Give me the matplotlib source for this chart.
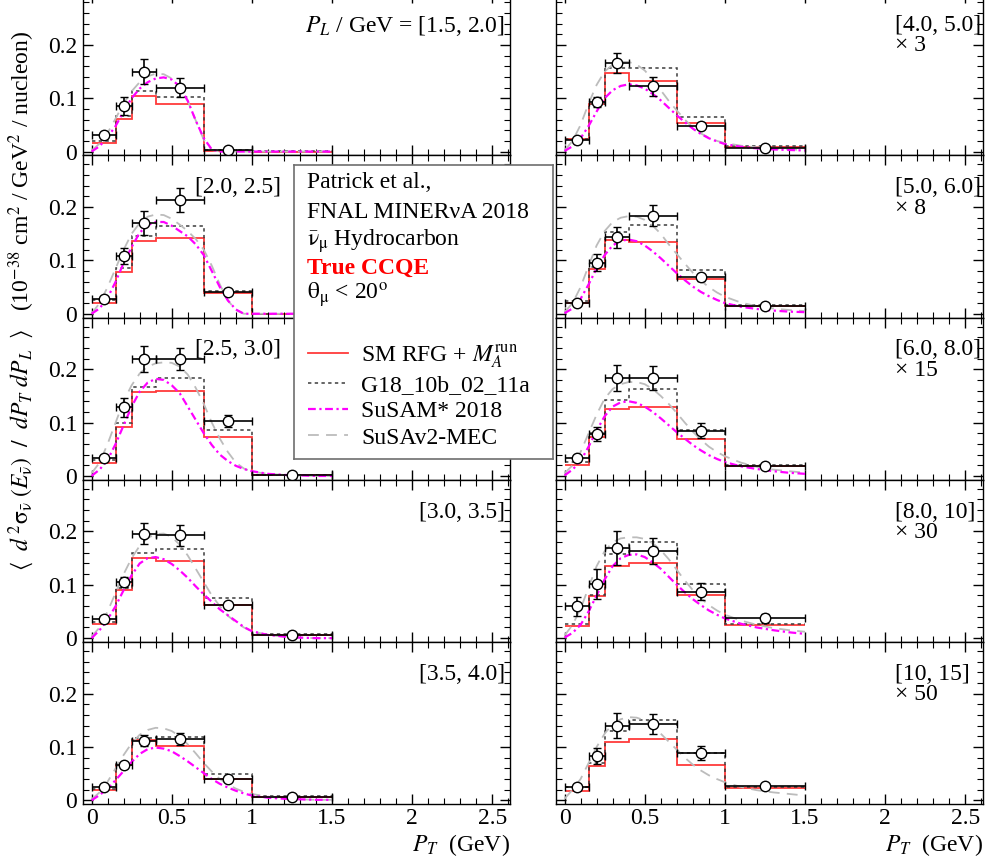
import numpy as np
import matplotlib
matplotlib.use('Agg')
import matplotlib.pyplot as plt
from matplotlib.lines import Line2D
from matplotlib.ticker import MultipleLocator, FuncFormatter

plt.rcParams['font.family'] = ['Liberation Serif', 'DejaVu Serif']
plt.rcParams['mathtext.fontset'] = 'stix'
plt.rcParams['font.size'] = 17

nan = np.nan

# P_T binning of the measurement
PT_EDGES = [0.0, 0.15, 0.25, 0.4, 0.7, 1.0, 1.5]
PT_CENTERS = [0.075, 0.2, 0.325, 0.55, 0.85, 1.25]
PT_HALF = [0.075, 0.05, 0.075, 0.15, 0.15, 0.25]

# P_T grid of the smooth model curves
PT_CURVE = [0.0, 0.05, 0.1, 0.15, 0.2, 0.25, 0.3, 0.35, 0.4, 0.45, 0.5,
            0.55, 0.6, 0.65, 0.7, 0.75, 0.8, 0.85, 0.9, 0.95, 1.0,
            1.1, 1.2, 1.3, 1.4, 1.5]

# P_L slices (left column top->bottom, then right column) and scale factors
PL_BINS = ['$P_L$ / GeV = [1.5, 2.0]', '[2.0, 2.5]', '[2.5, 3.0]', '[3.0, 3.5]', '[3.5, 4.0]',
           '[4.0, 5.0]', '[5.0, 6.0]', '[6.0, 8.0]', '[8.0, 10]', '[10, 15]']
SCALES = ['', '', '', '', '', '× 3', '× 8', '× 15', '× 30', '× 50']

# MINERvA data points and errors
DATA = [
    [0.031, 0.085, 0.150, 0.120, 0.002, nan],
    [0.0275, 0.1075, 0.170, 0.213, 0.041, nan],
    [0.034, 0.129, 0.219, 0.219, 0.103, 0.002],
    [0.035, 0.105, 0.196, 0.193, 0.062, 0.006],
    [0.025, 0.066, 0.112, 0.115, 0.040, 0.006],
    [0.021, 0.093, 0.166, 0.122, 0.048, 0.007],
    [0.021, 0.096, 0.143, 0.184, 0.068, 0.014],
    [0.033, 0.078, 0.184, 0.184, 0.085, 0.019],
    [0.060, 0.102, 0.169, 0.163, 0.087, 0.037],
    [0.025, 0.083, 0.140, 0.143, 0.088, 0.027],
]
DATA_ERR = [
    [0.005, 0.017, 0.024, 0.017, 0.002, nan],
    [0.004, 0.015, 0.022, 0.022, 0.004, nan],
    [0.005, 0.018, 0.025, 0.020, 0.012, 0.001],
    [0.005, 0.010, 0.020, 0.020, 0.006, 0.002],
    [0.004, 0.006, 0.010, 0.012, 0.004, 0.001],
    [0.003, 0.010, 0.018, 0.017, 0.006, 0.002],
    [0.003, 0.016, 0.020, 0.020, 0.007, 0.002],
    [0.005, 0.013, 0.024, 0.022, 0.014, 0.002],
    [0.018, 0.028, 0.031, 0.024, 0.016, 0.008],
    [0.006, 0.015, 0.023, 0.019, 0.013, 0.004],
]

# SM RFG + M_A^run, binned
SM_RFG = [
    [0.016, 0.061, 0.105, 0.090, 0.001, 0.000],
    [0.021, 0.078, 0.136, 0.142, 0.039, 0.000],
    [0.025, 0.092, 0.157, 0.159, 0.073, 0.002],
    [0.026, 0.091, 0.151, 0.144, 0.062, 0.006],
    [0.020, 0.066, 0.113, 0.102, 0.040, 0.007],
    [0.023, 0.089, 0.147, 0.132, 0.053, 0.009],
    [0.021, 0.083, 0.139, 0.135, 0.065, 0.014],
    [0.020, 0.073, 0.126, 0.129, 0.069, 0.019],
    [0.023, 0.079, 0.135, 0.141, 0.080, 0.025],
    [0.018, 0.064, 0.109, 0.115, 0.067, 0.024],
]

# GENIE G18_10b_02_11a, binned
G18 = [
    [0.020, 0.066, 0.114, 0.103, 0.002, 0.001],
    [0.026, 0.086, 0.146, 0.165, 0.042, 0.000],
    [0.030, 0.099, 0.167, 0.184, 0.086, 0.002],
    [0.031, 0.094, 0.159, 0.168, 0.075, 0.008],
    [0.022, 0.069, 0.117, 0.119, 0.050, 0.008],
    [0.023, 0.089, 0.157, 0.157, 0.065, 0.011],
    [0.023, 0.088, 0.153, 0.166, 0.082, 0.016],
    [0.027, 0.080, 0.143, 0.163, 0.086, 0.020],
    [0.027, 0.081, 0.157, 0.180, 0.101, 0.027],
    [0.025, 0.070, 0.130, 0.150, 0.088, 0.025],
]

# SuSAM* 2018 (no curve for the last slice)
SUSAM = [
    [0, .010, .027, .048, .075, .100, .118, .130, .137, .139, .135, .122, .095, .058, .025, .004, 0, 0, 0, 0, 0,
     0, 0, 0, 0, 0],
    [0, .010, .030, .060, .095, .125, .152, .166, .172, .172, .165, .155, .145, .130, .110, .080, .050, .025, .008, 0, 0,
     0, 0, 0, 0, 0],
    [0, .012, .030, .060, .095, .130, .158, .175, .182, .180, .170, .155, .130, .105, .080, .058, .040, .028, .019, .013, .009,
     .004, .002, .001, 0, 0],
    [0, .015, .035, .060, .090, .118, .140, .150, .152, .148, .139, .127, .113, .097, .082, .068, .054, .043, .032, .021, .013,
     .006, .003, .001, 0, 0],
    [0, .010, .022, .038, .055, .072, .087, .096, .099, .097, .092, .083, .073, .062, .051, .040, .031, .024, .018, .013, .009,
     .005, .003, .002, .001, .001],
    [.001, .010, .025, .048, .075, .100, .115, .123, .126, .124, .118, .108, .096, .082, .068, .055, .043, .033, .025, .019, .014,
     .009, .006, .004, .003, .002],
    [.001, .010, .028, .055, .085, .110, .128, .137, .139, .136, .128, .117, .104, .090, .076, .063, .051, .041, .033, .026, .020,
     .013, .009, .006, .004, .003],
    [.001, .012, .028, .055, .085, .112, .130, .138, .140, .137, .130, .120, .108, .095, .082, .070, .058, .048, .039, .032, .026,
     .018, .013, .009, .006, .004],
    [.001, .010, .025, .050, .080, .110, .135, .150, .156, .157, .152, .142, .130, .115, .100, .086, .073, .062, .052, .044, .037,
     .027, .020, .015, .011, .008],
    None,
]

# SuSAv2-MEC
SUSAV2 = [
    [.002, .015, .035, .062, .090, .113, .130, .141, .146, .145, .137, .122, .095, .058, .022, .003, 0, 0, 0, 0, 0,
     0, 0, 0, 0, 0],
    [0, .020, .050, .085, .120, .150, .170, .182, .186, .185, .178, .167, .155, .140, .120, .090, .055, .025, .007, 0, 0,
     0, 0, 0, 0, 0],
    [.005, .025, .060, .100, .140, .170, .192, .205, .211, .213, .212, .205, .190, .165, .135, .100, .070, .045, .025, .014, .008,
     .004, .002, .001, 0, 0],
    [.003, .020, .050, .085, .120, .150, .173, .188, .195, .196, .190, .175, .155, .130, .105, .080, .060, .042, .030, .020, .013,
     .006, .003, .001, 0, 0],
    [.002, .015, .035, .060, .085, .107, .123, .132, .136, .135, .130, .120, .105, .088, .070, .054, .040, .030, .022, .016, .012,
     .007, .004, .002, .001, .001],
    [.002, .020, .050, .090, .125, .150, .163, .168, .168, .163, .152, .135, .115, .095, .077, .060, .045, .034, .026, .020, .016,
     .011, .008, .006, .004, .003],
    [.003, .020, .050, .090, .128, .155, .172, .180, .183, .182, .176, .165, .150, .130, .112, .094, .077, .062, .050, .040, .032,
     .021, .014, .010, .007, .005],
    [.005, .020, .045, .080, .115, .145, .163, .172, .176, .176, .172, .163, .150, .135, .118, .100, .083, .068, .055, .045, .037,
     .025, .017, .012, .009, .006],
    [.005, .025, .055, .095, .135, .163, .180, .187, .189, .189, .186, .178, .165, .148, .128, .108, .090, .075, .062, .052, .044,
     .033, .025, .019, .015, .012],
    [.003, .020, .040, .070, .100, .125, .143, .152, .156, .155, .150, .140, .125, .110, .095, .080, .067, .056, .047, .040, .034,
     .025, .019, .015, .012, .009],
]

RED = '#ff3a3a'
MAGENTA = '#ff00ff'
GREY = '#bcbcbc'
DOTTED = '#3c3c3c'

fig = plt.figure(figsize=(9.85, 8.67), dpi=100)

col_left = [0.0840, 0.5642]
ax_w = 0.4338
ax_h = 0.18708
row_bottom = [1 - (155.3 + 162.2 * r) / 867 for r in range(5)]

fmt = FuncFormatter(lambda v, p: f'{v:g}' if abs(v) > 1e-9 else '0')

for i in range(10):
    col, row = divmod(i, 5)
    ax = fig.add_axes([col_left[col], row_bottom[row], ax_w, ax_h])

    ax.plot(PT_CURVE, SUSAV2[i], color=GREY, lw=1.3, dashes=(6, 4))
    if SUSAM[i] is not None:
        ax.plot(PT_CURVE, SUSAM[i], color=MAGENTA, lw=1.6, dashes=(3.5, 1.6, 1.0, 1.6))
    ax.stairs(SM_RFG[i], PT_EDGES, baseline=None, color=RED, lw=1.3)
    ax.stairs(G18[i], PT_EDGES, baseline=None, color=DOTTED, lw=1.1, ls=(0, (2.2, 2.2)))
    ax.errorbar(PT_CENTERS, DATA[i], yerr=DATA_ERR[i], xerr=PT_HALF, fmt='o',
                color='black', mfc='white', mec='black', ms=7.5, mew=1.0,
                elinewidth=1.2, capsize=3, capthick=1.2, zorder=5)

    ax.set_xlim(-0.055, 2.61)
    ax.set_ylim(-0.007, 0.297)
    ax.xaxis.set_major_locator(MultipleLocator(0.5))
    ax.xaxis.set_minor_locator(MultipleLocator(0.1))
    ax.yaxis.set_major_locator(MultipleLocator(0.1))
    ax.yaxis.set_minor_locator(MultipleLocator(0.02))
    ax.xaxis.set_major_formatter(fmt)
    ax.yaxis.set_major_formatter(fmt)
    ax.tick_params(which='both', direction='in', top=True, right=True, width=1.0)
    ax.tick_params(which='major', length=7)
    ax.tick_params(which='minor', length=4, width=0.8)
    ax.tick_params(axis='x', pad=3)
    ax.tick_params(axis='y', pad=4)
    ax.tick_params(labelleft=(col == 0), labelbottom=(row == 4))
    for s in ax.spines.values():
        s.set_linewidth(1.0)

    if col == 0:
        # middle slices keep their label clear of the info box
        lx = 0.463 if i in (1, 2) else 0.988
        ax.text(lx, 0.80, PL_BINS[i], transform=ax.transAxes, ha='right', va='center')
    else:
        ax.text(0.794, 0.80, PL_BINS[i], transform=ax.transAxes, ha='left', va='center')
        ax.text(0.794, 0.675, SCALES[i], transform=ax.transAxes, ha='left', va='center')

    if row == 4:
        ax.text(1.0, -0.255, '$P_T$  (GeV)', transform=ax.transAxes, ha='right', va='center')

fig.text(0.021, 0.653,
         r'$\langle\ \ d^{\,2}\mathrm{σ}_{\bar{\mathrm{ν}}}\ (E_{\bar{\mathrm{ν}}})\ \ /\ \ dP_T\ dP_L\ \ \rangle$'
         r'   (10$^{-38}$ cm$^2$ / GeV$^2$ / nucleon)',
         rotation=90, ha='center', va='center')

# info box with legend
leg_ax = fig.add_axes([294 / 985, 1 - 459 / 867, 259 / 985, 294 / 867])
leg_ax.set_xlim(0, 259)
leg_ax.set_ylim(294, 0)
leg_ax.set_xticks([])
leg_ax.set_yticks([])
leg_ax.set_facecolor('white')
for s in leg_ax.spines.values():
    s.set_color('#6e6e6e')
    s.set_linewidth(1.2)

info = ['Patrick et al.,', 'FNAL MINERνA 2018',
        r'$\bar{\mathrm{ν}}_{\mathrm{μ}}$ Hydrocarbon', 'True CCQE',
        r'$\mathrm{θ}_{\mathrm{μ}}$ < 20$^{\mathrm{o}}$']
info_y = [17, 48, 76, 103, 130]
for txt, y in zip(info, info_y):
    if txt == 'True CCQE':
        leg_ax.text(13, y, txt, color='#ff0000', fontweight='bold', va='center')
    else:
        leg_ax.text(13, y, txt, va='center')

handles = [Line2D([], [], color=RED, lw=1.3),
           Line2D([], [], color=DOTTED, lw=1.1, ls=(0, (2.2, 2.2))),
           Line2D([], [], color=MAGENTA, lw=1.6, dashes=(3.5, 1.6, 1.0, 1.6)),
           Line2D([], [], color=GREY, lw=1.3, dashes=(6, 4))]
labels = ['SM RFG + $M_A^{\\mathrm{run}}$', 'G18_10b_02_11a', 'SuSAM* 2018', 'SuSAv2-MEC']
leg_ax.legend(handles, labels, loc='upper left', bbox_to_anchor=(14 / 259, 1 - 177 / 294),
              frameon=False, borderpad=0, borderaxespad=0, handlelength=1.7,
              handletextpad=0.55, labelspacing=0.2, fontsize=17)

fig.savefig('out.png', dpi=100)
